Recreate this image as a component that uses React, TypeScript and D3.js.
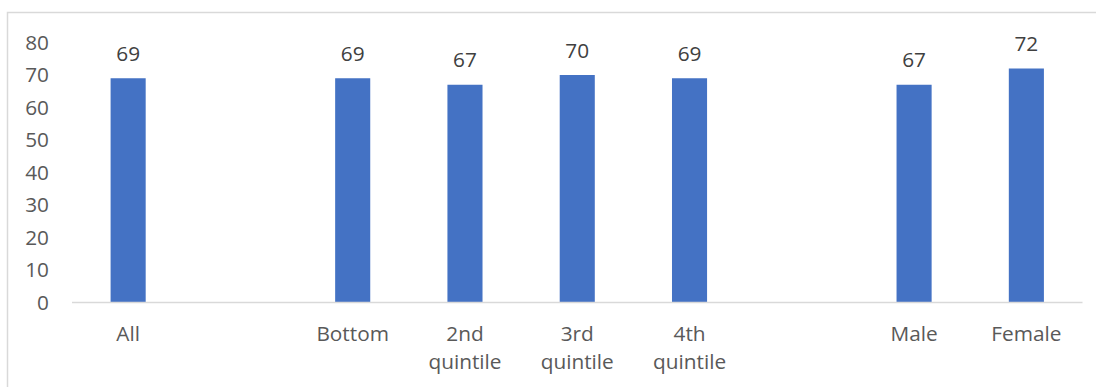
import React from "react";
import * as d3 from "d3";

// Share of respondents, by group
const categories: string[] = ["All", "", "Bottom", "2nd quintile", "3rd quintile", "4th quintile", " ", "Male", "Female"];
const values: (number | null)[] = [69, null, 69, 67, 70, 69, null, 67, 72];
const yTicks: number[] = [0, 10, 20, 30, 40, 50, 60, 70, 80];

const W = 1096;
const H = 387;
const FONT = "'Open Sans', 'Noto Sans', sans-serif";
const FS = 20.8;

const categoryLines: Record<string, string[]> = {
  "2nd quintile": ["2nd", "quintile"],
  "3rd quintile": ["3rd", "quintile"],
  "4th quintile": ["4th", "quintile"],
};

export default function App() {
  const x = d3.scaleBand<string>().domain(categories).range([72, 1082.5]).paddingInner(0).paddingOuter(0);
  const barW = x.bandwidth() / 3.2;
  const y = d3.scaleLinear().domain([0, 80]).range([302.5, 42.5]);

  return (
    <svg
      width={W}
      height={H}
      viewBox={`0 0 ${W} ${H}`}
      style={{ position: "absolute", left: 0, top: 0, display: "block", background: "#fff" }}
    >
      <rect x={7.5} y={12.5} width={1200} height={500} fill="#fff" stroke="#d9d9d9" strokeWidth={1.5} />

      {yTicks.map((t) => (
        <text
          key={t}
          x={49}
          y={y(t)}
          dy="0.36em"
          textAnchor="end"
          fontFamily={FONT}
          fontSize={FS}
          fill="#595959"
        >
          {t}
        </text>
      ))}

      {categories.map((c, i) => {
        const v = values[i];
        if (v == null) return null;
        const cx = (x(c) as number) + x.bandwidth() / 2;
        return (
          <g key={c}>
            <rect x={cx - barW / 2} y={y(v)} width={barW} height={y(0) - y(v)} fill="#4472c4" />
            <text
              x={cx}
              y={y(v) - 17.5}
              textAnchor="middle"
              fontFamily={FONT}
              fontSize={FS}
              fill="#404040"
            >
              {d3.format(".0f")(v)}
            </text>
          </g>
        );
      })}

      <line x1={72} x2={1082.5} y1={302.5} y2={302.5} stroke="#d9d9d9" strokeWidth={1.5} />

      {categories.map((c) => {
        if (!c.trim()) return null;
        const cx = (x(c) as number) + x.bandwidth() / 2;
        const lines = categoryLines[c] ?? [c];
        return (
          <text key={"l" + c} textAnchor="middle" fontFamily={FONT} fontSize={FS} fill="#595959">
            {lines.map((ln, j) => (
              <tspan key={j} x={cx} y={341 + j * 28}>
                {ln}
              </tspan>
            ))}
          </text>
        );
      })}
    </svg>
  );
}
